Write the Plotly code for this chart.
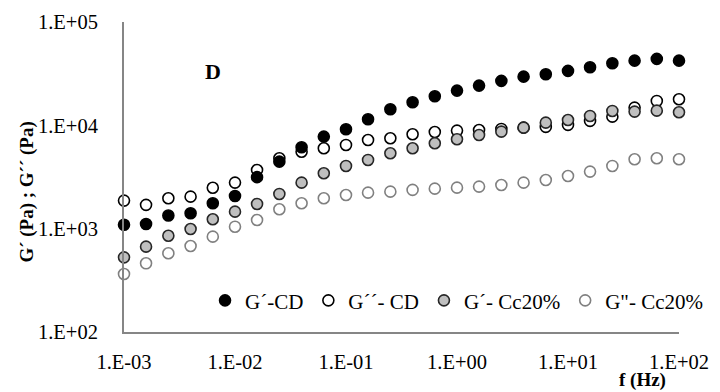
import plotly.graph_objects as go

freq_hz = [0.001, 0.00158, 0.00251, 0.00398, 0.00631, 0.01, 0.0158, 0.0251, 0.0398, 0.0631,
           0.1, 0.158, 0.251, 0.398, 0.631, 1.0, 1.58, 2.51, 3.98, 6.31,
           10.0, 15.8, 25.1, 39.8, 63.1, 100.0]

g1_cd = [1090, 1110, 1340, 1410, 1760, 2070, 3150, 4450, 6140, 7780,
         9160, 11450, 14320, 16740, 19140, 21680, 24230, 26910, 29590, 31250,
         33640, 36500, 39890, 42270, 43950, 42270]
g2_cd = [1870, 1700, 1970, 2040, 2490, 2790, 3700, 4800, 5560, 6000,
         6460, 7220, 7500, 8200, 8630, 8890, 9020, 9230, 9500, 9660,
         10100, 11040, 12140, 14840, 17220, 17900]
g1_cc = [528, 670, 855, 993, 1234, 1461, 1735, 2168, 2787, 3437,
         4046, 4625, 5370, 6000, 6710, 7330, 8070, 8690, 9500, 10620,
         11270, 12330, 13780, 13580, 13870, 13390]
g2_cc = [364, 462, 578, 680, 837, 1045, 1214, 1541, 1762, 1968,
         2119, 2232, 2281, 2371, 2439, 2494, 2552, 2649, 2787, 2958,
         3236, 3565, 4046, 4697, 4800, 4697]

names = ["G´-CD", "G´´- CD", "G´- Cc20%", "G\"- Cc20%"]

x_tickvals = [0.001, 0.01, 0.1, 1, 10, 100]
x_ticktext = ["1.E-03", "1.E-02", "1.E-01", "1.E+00", "1.E+01", "1.E+02"]
y_tickvals = [100, 1000, 10000, 100000]
y_ticktext = ["1.E+02", "1.E+03", "1.E+04", "1.E+05"]

SERIF = "Liberation Serif, Times New Roman, serif"

fig = go.Figure()

# draw order: open CD, filled CD, grey Cc, light Cc
fig.add_trace(go.Scatter(x=freq_hz, y=g2_cd, mode="markers", name=names[1], legendrank=2,
                         cliponaxis=False,
                         marker=dict(size=11, color="white", line=dict(color="#000000", width=1.6))))
fig.add_trace(go.Scatter(x=freq_hz, y=g1_cd, mode="markers", name=names[0], legendrank=1,
                         cliponaxis=False,
                         marker=dict(size=11, color="#000000", line=dict(color="#000000", width=1.6))))
fig.add_trace(go.Scatter(x=freq_hz, y=g1_cc, mode="markers", name=names[2], legendrank=3,
                         cliponaxis=False,
                         marker=dict(size=11, color="#BFBFBF", line=dict(color="#262626", width=1.6))))
fig.add_trace(go.Scatter(x=freq_hz, y=g2_cc, mode="markers", name=names[3], legendrank=4,
                         cliponaxis=False,
                         marker=dict(size=11, color="white", line=dict(color="#808080", width=1.6))))

fig.update_layout(
    width=720, height=392,
    margin=dict(l=124, r=32, t=22, b=60),
    paper_bgcolor="white", plot_bgcolor="white",
    font=dict(family=SERIF, size=20, color="#000000"),
    showlegend=True,
    legend=dict(orientation="h", x=0.146, y=0.101, xanchor="left", yanchor="middle",
                font=dict(family=SERIF, size=21, color="#000000"),
                bgcolor="rgba(0,0,0,0)", itemwidth=30, tracegroupgap=0),
    xaxis=dict(type="log", range=[-3, 2], tickvals=x_tickvals, ticktext=x_ticktext,
               showgrid=False, zeroline=False, showline=True, linecolor="#868686", linewidth=2,
               ticks="", ticklabelstandoff=10, tickfont=dict(family=SERIF, size=20.5, color="#000000")),
    yaxis=dict(type="log", range=[2, 5], tickvals=y_tickvals, ticktext=y_ticktext,
               showgrid=False, zeroline=False, showline=True, linecolor="#868686", linewidth=2,
               ticks="", ticklabelstandoff=20, tickfont=dict(family=SERIF, size=20.5, color="#000000")),
    annotations=[
        dict(text="<b>D</b>", xref="paper", yref="paper", x=0.161, y=0.84,
             xanchor="center", yanchor="middle",
             showarrow=False, font=dict(family=SERIF, size=22, color="#000000")),
        dict(text="<b>f (Hz)</b>", xref="paper", yref="paper", x=0.9335, y=-0.154,
             xanchor="center", yanchor="middle",
             showarrow=False, font=dict(family=SERIF, size=19, color="#000000")),
        dict(text="<b>G´ (Pa) ; G´´ (Pa)</b>", xref="paper", yref="paper", x=-0.1755, y=0.4516,
             xanchor="center", yanchor="middle", textangle=-90,
             showarrow=False, font=dict(family=SERIF, size=19, color="#000000")),
    ],
)

fig.write_html("out.html")
